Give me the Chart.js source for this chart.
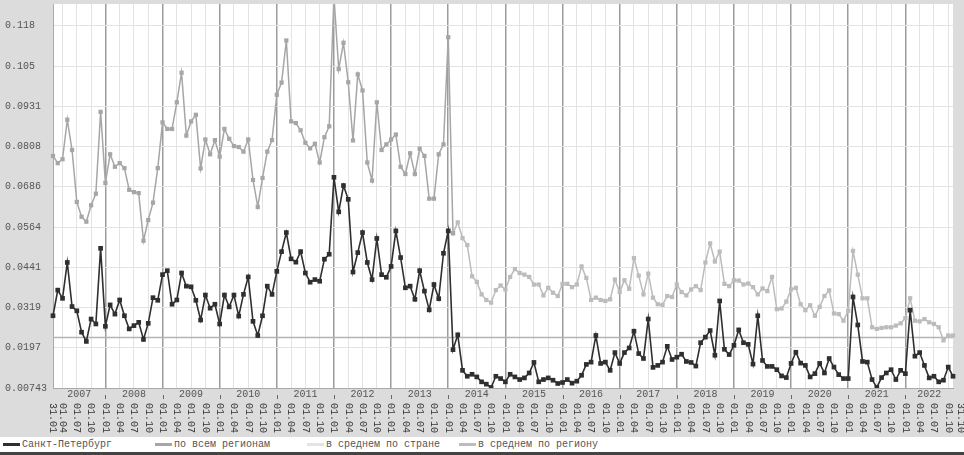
<!DOCTYPE html>
<html>
<head>
<meta charset="utf-8">
<script src="https://cdn.jsdelivr.net/npm/chart.js@4.4.1/dist/chart.umd.min.js"></script>
<style>
body{margin:0;background:#fff;width:964px;height:455px;overflow:hidden;font-family:"Liberation Mono",monospace;}
canvas{display:block;}
#legend{display:flex;height:15px;align-items:center;font-size:10px;color:#555;padding-left:3px;background:#fff;}
.item{width:152px;display:flex;align-items:center;white-space:nowrap;}
.item i{display:inline-block;width:17px;height:3px;margin-right:2px;}
#bottom{height:3px;background:#444;}
</style>
</head>
<body>
<canvas id="chart" width="964" height="437"></canvas>
<div id="legend"></div>
<div id="bottom"></div>
<script>
const years = [2007,2008,2009,2010,2011,2012,2013,2014,2015,2016,2017,2018,2019,2020,2021,2022];
const yTicks = [0.00743,0.0197,0.0319,0.0441,0.0564,0.0686,0.0808,0.0931,0.105,0.118];
const yTickValues = [0.00743,0.01967,0.0319,0.04414,0.05638,0.06862,0.08086,0.0931,0.10533,0.11757];

// Санкт-Петербург, monthly, 31.01.2007 .. 31.10.2022
const spb = [
  0.0294,0.0372,0.0347,0.0456,0.0322,0.0309,0.0244,0.0216,0.0284,0.0269,0.0499,0.0262,
  0.0327,0.0299,0.0342,0.0294,0.0254,0.0264,0.0274,0.0222,0.0271,0.0349,0.0341,0.0419,
  0.0431,0.0329,0.0342,0.0424,0.0384,0.0382,0.0341,0.0281,0.0357,0.0317,0.0329,0.0269,
  0.0357,0.0321,0.0357,0.0293,0.0359,0.0412,0.0277,0.0234,0.0294,0.0384,0.0359,0.0429,
  0.0489,0.0547,0.0467,0.0457,0.0489,0.0424,0.0396,0.0404,0.0399,0.0466,0.0481,0.0715,
  0.0610,0.0690,0.0648,0.0427,0.0486,0.0547,0.0456,0.0404,0.0529,0.0419,0.0411,0.0444,
  0.0552,0.0471,0.0379,0.0384,0.0344,0.0431,0.0369,0.0312,0.0389,0.0346,0.0484,0.0552,
  0.0191,0.0236,0.0128,0.0110,0.0116,0.0108,0.0093,0.0086,0.0076,0.0110,0.0103,0.0093,
  0.0116,0.0108,0.0100,0.0105,0.0120,0.0152,0.0093,0.0100,0.0105,0.0098,0.0088,0.0091,
  0.0100,0.0089,0.0095,0.0113,0.0146,0.0153,0.0234,0.0149,0.0153,0.0128,0.0182,0.0149,
  0.0182,0.0196,0.0247,0.0179,0.0164,0.0284,0.0137,0.0143,0.0153,0.0201,0.0161,0.0168,
  0.0177,0.0155,0.0152,0.0141,0.0212,0.0229,0.0249,0.0174,0.0339,0.0192,0.0176,0.0204,
  0.0251,0.0212,0.0207,0.0147,0.0294,0.0158,0.0140,0.0140,0.0130,0.0111,0.0106,0.0149,
  0.0183,0.0150,0.0143,0.0108,0.0118,0.0149,0.0120,0.0164,0.0138,0.0115,0.0103,0.0103,
  0.0351,0.0266,0.0155,0.0153,0.0100,0.0076,0.0106,0.0120,0.0130,0.0100,0.0128,0.0118,
  0.0311,0.0171,0.0182,0.0143,0.0105,0.0110,0.0093,0.0098,0.0138,0.0110
];

// по всем регионам, 31.01.2007 .. 31.01.2014
const allRegions = [
  0.0780,0.0758,0.0770,0.0890,0.0798,0.0640,0.0595,0.0580,0.0630,0.0665,0.0914,0.0698,
  0.0785,0.0747,0.0758,0.0743,0.0677,0.0670,0.0667,0.0522,0.0585,0.0638,0.0743,0.0882,
  0.0862,0.0862,0.0943,0.1033,0.0842,0.0885,0.0905,0.0742,0.0830,0.0785,0.0828,0.0778,
  0.0862,0.0832,0.0810,0.0807,0.0793,0.0830,0.0707,0.0625,0.0713,0.0793,0.0828,0.0966,
  0.1003,0.1131,0.0885,0.0880,0.0858,0.0820,0.0803,0.0817,0.0760,0.0837,0.0870,0.1265,
  0.1044,0.1124,0.1004,0.0827,0.1028,0.0979,0.0760,0.0705,0.0943,0.0798,0.0815,0.0830,
  0.0845,0.0747,0.0725,0.0788,0.0725,0.0802,0.0780,0.0650,0.0650,0.0785,0.0815,0.1141,
  0.0545
];

// в среднем по региону, 31.01.2014 .. 31.10.2022
const regionAvg = [
  0.0545,0.0578,0.0530,0.0509,0.0414,0.0397,0.0359,0.0342,0.0334,0.0372,0.0386,0.0374,
  0.0412,0.0436,0.0424,0.0419,0.0412,0.0389,0.0389,0.0356,0.0379,0.0364,0.0354,0.0391,
  0.0391,0.0381,0.0389,0.0444,0.0409,0.0342,0.0349,0.0342,0.0339,0.0344,0.0404,0.0366,
  0.0402,0.0376,0.0469,0.0416,0.0359,0.0422,0.0349,0.0329,0.0327,0.0354,0.0351,0.0389,
  0.0366,0.0356,0.0374,0.0384,0.0372,0.0456,0.0514,0.0459,0.0489,0.0391,0.0384,0.0402,
  0.0401,0.0389,0.0392,0.0381,0.0359,0.0377,0.0369,0.0412,0.0314,0.0316,0.0337,0.0374,
  0.0379,0.0329,0.0311,0.0326,0.0294,0.0321,0.0354,0.0371,0.0301,0.0299,0.0279,0.0309,
  0.0491,0.0419,0.0347,0.0347,0.0259,0.0254,0.0257,0.0259,0.0259,0.0264,0.0271,0.0287,
  0.0347,0.0279,0.0277,0.0284,0.0274,0.0269,0.0259,0.0219,0.0234,0.0234
];

// в среднем по стране - no visible marks
const countryAvg = [];

const monthEnd = ['31.01','28.02','31.03','30.04','31.05','30.06','31.07','31.08','30.09','31.10','30.11','31.12'];
const labels = [];
years.forEach(y => monthEnd.forEach((d, m) => { if (labels.length < spb.length) labels.push(d + '.' + y); }));

const n = labels.length;
const regionStart = allRegions.length - 1;
const allRegionsFull = labels.map((_, i) => i < allRegions.length ? allRegions[i] : null);
const regionAvgFull = labels.map((_, i) => i >= regionStart ? regionAvg[i - regionStart] : null);

const MONO = '"Liberation Mono", "Courier New", monospace';

const series = [
  {label: 'Санкт-Петербург', data: spb, color: '#2f2f2f', width: 1.6, r: 3.3},
  {label: 'по всем регионам', data: allRegionsFull, color: '#a6a6a6', width: 1.5, r: 3},
  {label: 'в среднем по стране', data: countryAvg, color: '#e4e4e4', width: 1.5, r: 3},
  {label: 'в среднем по региону', data: regionAvgFull, color: '#bcbcbc', width: 1.5, r: 3}
];

const frame = {
  id: 'frame',
  beforeDraw(chart) {
    const {ctx, chartArea: a} = chart;
    ctx.save();
    ctx.fillStyle = '#dcdcdc';
    ctx.fillRect(0, 0, chart.width, chart.height);
    ctx.fillStyle = '#ffffff';
    ctx.fillRect(a.left, a.top, a.right - a.left, a.bottom - a.top);
    ctx.restore();
  },
  beforeDatasetsDraw(chart) {
    const {ctx, chartArea: a} = chart;
    const y = chart.scales.y.getPixelForValue(0.0228);
    ctx.save();
    ctx.strokeStyle = '#b4b4b4';
    ctx.lineWidth = 1.5;
    ctx.beginPath();
    ctx.moveTo(a.left, y);
    ctx.lineTo(a.right, y);
    ctx.stroke();
    ctx.restore();
  },
  afterDraw(chart) {
    const {ctx, chartArea: a} = chart;
    const x = chart.scales.x;
    ctx.save();
    // year row
    ctx.font = '10px ' + MONO;
    ctx.fillStyle = '#555';
    ctx.textAlign = 'center';
    ctx.textBaseline = 'middle';
    ctx.strokeStyle = '#666';
    ctx.lineWidth = 1;
    years.forEach((yr, k) => {
      const x0 = k === 0 ? a.left : x.getPixelForValue(12 * k - 1);
      const x1 = k === years.length - 1 ? a.right : x.getPixelForValue(12 * k + 11);
      ctx.fillText(String(yr), (x0 + x1) / 2, a.bottom + 6);
      if (k > 0) {
        ctx.beginPath();
        ctx.moveTo(Math.round(x0) + 0.5, a.bottom + 7);
        ctx.lineTo(Math.round(x0) + 0.5, a.bottom + 11);
        ctx.stroke();
      }
    });
    // date labels, rotated
    ctx.fillStyle = '#333';
    ctx.textAlign = 'left';
    const marks = {2: '01.04', 5: '01.07', 8: '01.10', 11: '01.01'};
    const put = (txt, px) => {
      ctx.save();
      ctx.translate(px, a.bottom + 15);
      ctx.rotate(Math.PI / 2);
      ctx.fillText(txt, 0, 0);
      ctx.restore();
    };
    for (let i = 0; i < n; i++) {
      const txt = i === 0 ? labels[0].slice(0, 5) : marks[i % 12];
      if (txt) put(txt, x.getPixelForValue(i));
    }
    put(labels[n - 1].slice(0, 5), x.getPixelForValue(n - 1) + 8);
    ctx.restore();
  }
};

new Chart(document.getElementById('chart'), {
  type: 'line',
  data: {
    labels,
    datasets: series.map(s => ({
      label: s.label,
      data: s.data,
      borderColor: s.color,
      backgroundColor: s.color,
      borderWidth: s.width,
      pointStyle: 'rect',
      pointRadius: s.r,
      pointBorderWidth: 0,
      tension: 0,
      spanGaps: false
    }))
  },
  options: {
    responsive: false,
    animation: false,
    layout: {padding: {left: 5, right: 11, top: 0, bottom: 49}},
    plugins: {legend: {display: false}, tooltip: {enabled: false}},
    scales: {
      x: {
        type: 'category',
        offset: false,
        ticks: {display: false, autoSkip: false},
        border: {display: true, color: '#aaa'},
        grid: {
          drawTicks: false,
          color: c => { const m = c.index % 12; return m === 11 ? '#9c9c9c' : (m === 2 || m === 5 || m === 8) ? '#e3e3e3' : 'rgba(0,0,0,0)'; },
          lineWidth: c => c.index % 12 === 11 ? 1.5 : 1
        }
      },
      y: {
        min: 0.00743,
        max: 0.1242,
        afterBuildTicks: s => { s.ticks = yTickValues.map(v => ({value: v})); },
        afterFit: s => { s.width = 48; s.paddingTop = 0; s.paddingBottom = 0; },
        ticks: {
          font: {family: MONO, size: 10},
          color: '#555',
          crossAlign: 'far',
          callback: (v, i) => yTicks[i]
        },
        border: {display: true, color: '#aaa'},
        grid: {drawTicks: false, color: '#e3e3e3'}
      }
    }
  },
  plugins: [frame]
});

const legend = document.getElementById('legend');
series.forEach(s => {
  const d = document.createElement('div');
  d.className = 'item';
  d.innerHTML = '<i style="background:' + s.color + '"></i>' + s.label;
  legend.appendChild(d);
});
</script>
</body>
</html>
